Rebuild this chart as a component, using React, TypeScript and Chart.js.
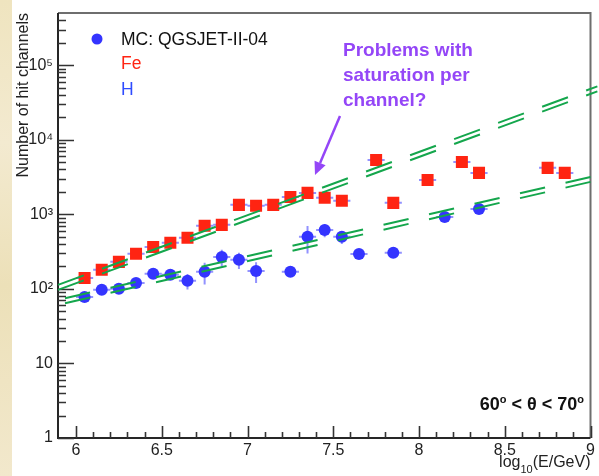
import React, { useEffect, useRef } from 'react';
import { Chart, registerables } from 'chart.js';

Chart.register(...registerables);

// ---- data ----
const feEnergy = [6.05, 6.15, 6.25, 6.35, 6.45, 6.55, 6.65, 6.75, 6.85, 6.95, 7.05, 7.15, 7.25, 7.35, 7.45, 7.55, 7.75, 7.85, 8.05, 8.25, 8.35, 8.75, 8.85];
const feHits = [140, 180, 230, 295, 365, 414, 483, 700, 721, 1337, 1297, 1337, 1710, 1936, 1660, 1513, 5360, 1422, 2890, 5040, 3590, 4190, 3590];

const hEnergy = [6.05, 6.15, 6.25, 6.35, 6.45, 6.55, 6.65, 6.75, 6.85, 6.95, 7.05, 7.25, 7.35, 7.45, 7.55, 7.65, 7.85, 8.15, 8.35];
const hHits = [78, 97, 100, 120, 159, 154, 128, 169, 268, 245, 174, 169, 498, 617, 498, 294, 304, 922, 1180];
const hHitsErr = [0, 0, 0, 15, 0, 20, 30, 55, 66, 60, 54, 20, 200, 125, 100, 0, 0, 0, 0];

const binHalfWidth = 0.05;

const feFitEnergy = [5.895, 9.04];
const feFitUpper = [113, 51900];
const feFitLower = [97, 44500];
const hFitEnergy = [5.895, 9.0];
const hFitUpper = [71, 3170];
const hFitLower = [61, 2720];

const xMin = 5.895;
const xMax = 9.0;
const yMin = 1;
const yMax = 5e5;
const xTickValues = [6, 6.5, 7, 7.5, 8, 8.5, 9];
const yTickValues = [1, 10, 100, 1000, 10000, 100000];
const yTickLabels = ['1', '10', '10²', '10³', '10⁴', '10⁵'];

const yTitle = 'Number of hit channels';
const legendTitle = 'MC: QGSJET-II-04';
const legendFe = 'Fe';
const legendH = 'H';
const noteLines = ['Problems with', 'saturation per', 'channel?'];

const FONT = "'Liberation Sans', Arial, Helvetica, sans-serif";
const RED = 'rgb(255,36,18)';
const BLUE = 'rgb(52,52,255)';
const GREEN = '#14a64c';
const PURPLE = '#9446f7';
const ERR = 'rgba(110,110,255,0.75)';

function drawSegments(ctx: CanvasRenderingContext2D, segs: { t: string; f: string; dy: number }[], xRight: number, base: number, color: string) {
  let total = 0;
  for (const s of segs) { ctx.font = s.f; total += ctx.measureText(s.t).width; }
  let x = xRight - total;
  ctx.fillStyle = color;
  ctx.textAlign = 'left';
  ctx.textBaseline = 'alphabetic';
  for (const s of segs) {
    ctx.font = s.f;
    ctx.fillText(s.t, x, base + s.dy);
    x += ctx.measureText(s.t).width;
  }
}

const rootPlugin = {
  id: 'rootStyle',
  beforeDatasetsDraw(chart: any) {
    const { ctx, chartArea: a, scales } = chart;
    const x = scales.x;
    const y = scales.y;
    ctx.save();
    // frame
    ctx.lineWidth = 2;
    ctx.strokeStyle = '#6e6e6e';
    ctx.beginPath();
    ctx.moveTo(a.left, a.top);
    ctx.lineTo(a.right, a.top);
    ctx.lineTo(a.right, a.bottom);
    ctx.stroke();
    ctx.strokeStyle = '#262626';
    ctx.beginPath();
    ctx.moveTo(a.left, a.top);
    ctx.lineTo(a.left, a.bottom);
    ctx.lineTo(a.right, a.bottom);
    ctx.stroke();
    // y ticks (inside)
    ctx.lineWidth = 1.6;
    ctx.strokeStyle = '#333';
    ctx.beginPath();
    for (let d = 0; d <= 5; d++) {
      for (let m = 1; m <= 9; m++) {
        const v = m * Math.pow(10, d);
        if (v >= yMax) break;
        const py = Math.round(y.getPixelForValue(v)) + 0.5;
        const len = m === 1 ? 16 : 8;
        ctx.moveTo(a.left, py);
        ctx.lineTo(a.left + len, py);
      }
    }
    // x ticks (inside)
    for (let i = 60; i <= 90; i++) {
      const v = i / 10;
      const px = Math.round(x.getPixelForValue(v)) + 0.5;
      const len = i % 5 === 0 ? 12 : 6;
      ctx.moveTo(px, a.bottom);
      ctx.lineTo(px, a.bottom - len);
    }
    ctx.stroke();
    // error bars
    ctx.strokeStyle = ERR;
    ctx.lineWidth = 2;
    ctx.beginPath();
    feEnergy.forEach((e, i) => {
      const py = y.getPixelForValue(feHits[i]);
      ctx.moveTo(x.getPixelForValue(e - binHalfWidth), py);
      ctx.lineTo(x.getPixelForValue(e + binHalfWidth), py);
    });
    hEnergy.forEach((e, i) => {
      const py = y.getPixelForValue(hHits[i]);
      const px = x.getPixelForValue(e);
      ctx.moveTo(x.getPixelForValue(e - binHalfWidth), py);
      ctx.lineTo(x.getPixelForValue(e + binHalfWidth), py);
      if (hHitsErr[i] > 0) {
        ctx.moveTo(px, y.getPixelForValue(hHits[i] + hHitsErr[i]));
        ctx.lineTo(px, y.getPixelForValue(Math.max(hHits[i] - hHitsErr[i], 1)));
      }
    });
    ctx.stroke();
    ctx.restore();
  },
  afterDraw(chart: any) {
    const { ctx, chartArea: a } = chart;
    ctx.save();
    // legend
    ctx.fillStyle = BLUE;
    ctx.beginPath();
    ctx.arc(97, 39, 5.5, 0, Math.PI * 2);
    ctx.fill();
    ctx.textAlign = 'left';
    ctx.textBaseline = 'alphabetic';
    ctx.font = `17.5px ${FONT}`;
    ctx.fillStyle = '#111';
    ctx.fillText(legendTitle, 121, 44.5);
    ctx.fillStyle = RED;
    ctx.fillText(legendFe, 121, 69);
    ctx.fillStyle = '#2f4cff';
    ctx.fillText(legendH, 121, 95);
    // annotation
    ctx.font = `bold 19px ${FONT}`;
    ctx.fillStyle = PURPLE;
    noteLines.forEach((t, i) => ctx.fillText(t, 343, 56 + i * 25));
    // arrow
    const x0 = 340, y0 = 116, x1 = 315, y1 = 175;
    const ang = Math.atan2(y1 - y0, x1 - x0);
    const hl = 13, hw = 6;
    const bx = x1 - hl * Math.cos(ang), by = y1 - hl * Math.sin(ang);
    ctx.strokeStyle = PURPLE;
    ctx.lineWidth = 2.5;
    ctx.beginPath();
    ctx.moveTo(x0, y0);
    ctx.lineTo(bx, by);
    ctx.stroke();
    ctx.beginPath();
    ctx.moveTo(x1, y1);
    ctx.lineTo(bx + hw * Math.sin(ang), by - hw * Math.cos(ang));
    ctx.lineTo(bx - hw * Math.sin(ang), by + hw * Math.cos(ang));
    ctx.closePath();
    ctx.fillStyle = PURPLE;
    ctx.fill();
    // theta range label
    const bf = `bold 18px ${FONT}`;
    const sf = `bold 11px ${FONT}`;
    drawSegments(ctx, [
      { t: '60', f: bf, dy: 0 },
      { t: 'o', f: sf, dy: -6.5 },
      { t: ' < θ < 70', f: bf, dy: 0 },
      { t: 'o', f: sf, dy: -6.5 },
    ], 584, 409.5, '#111');
    // x title
    const tf = `16px ${FONT}`;
    const subf = `11px ${FONT}`;
    drawSegments(ctx, [
      { t: 'log', f: tf, dy: 0 },
      { t: '10', f: subf, dy: 6 },
      { t: '(E/GeV)', f: tf, dy: 0 },
    ], a.right, 467, '#222');
    ctx.restore();
  },
};

export default function App() {
  const canvasRef = useRef<HTMLCanvasElement | null>(null);

  useEffect(() => {
    const canvas = canvasRef.current;
    if (!canvas) return;
    const chart = new Chart(canvas, {
      type: 'scatter',
      data: {
        datasets: [
          {
            data: feFitEnergy.map((e, i) => ({ x: e, y: feFitUpper[i] })),
            showLine: true, borderColor: GREEN, borderWidth: 2, pointRadius: 0,
            borderDash: [27.5, 19.4], clip: false,
          } as any,
          {
            data: feFitEnergy.map((e, i) => ({ x: e, y: feFitLower[i] })),
            showLine: true, borderColor: GREEN, borderWidth: 2, pointRadius: 0,
            borderDash: [27.5, 19.4], clip: false,
          },
          {
            data: hFitEnergy.map((e, i) => ({ x: e, y: hFitUpper[i] })),
            showLine: true, borderColor: GREEN, borderWidth: 2, pointRadius: 0,
            borderDash: [25.7, 21], borderDashOffset: 39.5, clip: false,
          },
          {
            data: hFitEnergy.map((e, i) => ({ x: e, y: hFitLower[i] })),
            showLine: true, borderColor: GREEN, borderWidth: 2, pointRadius: 0,
            borderDash: [25.7, 21], borderDashOffset: 39.5, clip: false,
          },
          {
            data: feEnergy.map((e, i) => ({ x: e, y: feHits[i] })),
            pointStyle: 'rect', pointRadius: 8.5, backgroundColor: RED, borderColor: RED, borderWidth: 0,
          },
          {
            data: hEnergy.map((e, i) => ({ x: e, y: hHits[i] })),
            pointStyle: 'circle', pointRadius: 6, backgroundColor: BLUE, borderColor: BLUE, borderWidth: 0,
          },
        ],
      },
      options: {
        responsive: false,
        animation: false,
        devicePixelRatio: 1,
        events: [],
        layout: { padding: { left: 0, top: 13, right: 7, bottom: 0 } },
        plugins: { legend: { display: false }, tooltip: { enabled: false }, title: { display: false } },
        scales: {
          x: {
            type: 'linear',
            min: xMin,
            max: xMax,
            grid: { display: false, drawTicks: false },
            border: { display: false },
            afterBuildTicks: (s: any) => { s.ticks = xTickValues.map((v) => ({ value: v })); },
            afterFit: (s: any) => { s.height = 38; s.paddingLeft = 0; s.paddingRight = 0; },
            ticks: {
              autoSkip: false,
              maxRotation: 0,
              padding: 3,
              color: '#222',
              font: { family: FONT, size: 16 },
              callback: (v: any) => `${v}`,
            },
          },
          y: {
            type: 'logarithmic',
            min: yMin,
            max: yMax,
            grid: { display: false, drawTicks: false },
            border: { display: false },
            afterBuildTicks: (s: any) => { s.ticks = yTickValues.map((v) => ({ value: v })); },
            afterFit: (s: any) => { s.width = 58; s.paddingTop = 0; s.paddingBottom = 0; },
            ticks: {
              autoSkip: false,
              padding: 5,
              color: '#222',
              font: { family: FONT, size: 16 },
              callback: (v: any) => {
                const i = yTickValues.indexOf(Number(v));
                return i >= 0 ? yTickLabels[i] : '';
              },
            },
            title: {
              display: true,
              text: yTitle,
              align: 'end',
              color: '#222',
              font: { family: FONT, size: 16 },
              padding: { top: 13.5, bottom: 0 },
            },
          },
        },
      },
      plugins: [rootPlugin],
    });
    return () => chart.destroy();
  }, []);

  return (
    <div style={{ position: 'fixed', left: 0, top: 0, width: 599, height: 476, background: '#ffffff', overflow: 'hidden' }}>
      <div
        style={{
          position: 'absolute', left: 0, top: 0, width: 12, height: 476,
          background: 'linear-gradient(180deg, #efe4bf 0%, #f3ead0 30%, #ece0b8 60%, #f2e8cc 100%)',
        }}
      />
      <canvas ref={canvasRef} width={599} height={476} style={{ position: 'absolute', left: 0, top: 0 }} />
    </div>
  );
}
